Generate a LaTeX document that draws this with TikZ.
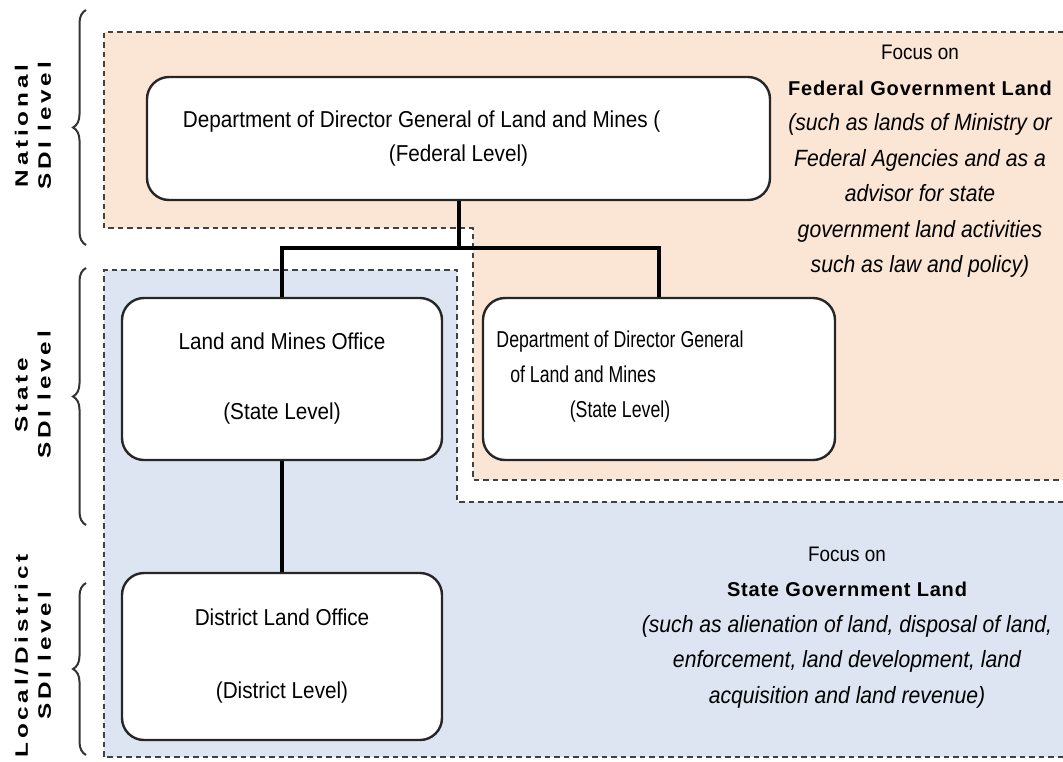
\documentclass[tikz,border=0pt]{standalone}
\usepackage{fontspec}
\setmainfont{Liberation Sans}
\newfontfamily\narrowfont[FakeStretch=0.9]{Liberation Sans}
\newfontfamily\narrowerfont[FakeStretch=0.77]{Liberation Sans}
\newfontfamily\bwfont[LetterSpace=4]{Liberation Sans}
\newfontfamily\lvlfont[FakeStretch=1.35,LetterSpace=21]{Liberation Sans}
\usetikzlibrary{decorations.pathreplacing}
\definecolor{peach}{RGB}{251,230,213}
\definecolor{lblue}{RGB}{220,229,241}
\definecolor{dashc}{RGB}{65,65,65}
\newcommand{\focit}{\narrowfont\itshape\fontsize{23.5}{35.5}\selectfont}
\begin{document}
\begin{tikzpicture}[x=1pt,y=-1pt,
  region/.style={draw=dashc, line width=2.4pt, dash pattern=on 5.5pt off 4pt},
  box/.style={draw=black!85, fill=white, line width=2.4pt, rounded corners=22pt, align=center, inner sep=0pt, font=\narrowfont\fontsize{23}{34}\selectfont},
  boxtext/.style={align=center, inner sep=0pt, font=\narrowerfont\fontsize{23}{35}\selectfont},
  conn/.style={line width=4pt, black},
  bracestyle/.style={decorate, decoration={brace, amplitude=13pt}, line width=2pt, draw=black!80},
  lvl/.style={rotate=90, align=center, inner sep=0pt, font=\lvlfont\bfseries\fontsize{18}{23}\selectfont},
  focus/.style={align=center, inner sep=0pt, font=\narrowfont\fontsize{21}{35.5}\selectfont}]

\useasboundingbox (0,0) rectangle (1063,761);
\fill[white] (0,0) rectangle (1063,761);

% regions
\fill[peach] (1063,32) -- (104,32) -- (104,228) -- (473,228) -- (473,480) -- (1063,480) -- cycle;
\draw[region] (1063,32) -- (104,32) -- (104,228) -- (473,228) -- (473,480) -- (1063,480);
\fill[lblue] (1063,502) -- (457,502) -- (457,270) -- (104,270) -- (104,757) -- (1063,757) -- cycle;
\draw[region] (1063,502) -- (457,502) -- (457,270) -- (104,270) -- (104,757) -- (1063,757);

% boxes
\node[box, minimum width=623pt, minimum height=123pt] (fed) at (458.5,138.5)
  {Department of Director General of Land and Mines (\phantom{JKPTG)}\\(Federal Level)};
\node[box, minimum width=320pt, minimum height=162pt] (lmo) at (282,379)
  {Land and Mines Office\\[36pt](State Level)};
\node[box, minimum width=352pt, minimum height=162pt] (dgs) at (659,379) {};
\node[boxtext] (dgst) at (620,377)
  {Department of Director General\\of Land and Mines\phantom{ (JKPTG)}\\(State Level)};
\node[box, minimum width=320pt, minimum height=167pt] (dlo) at (282,656.5)
  {District Land Office\\[39pt](District Level)};

% connectors
\coordinate (bus) at (458.5,248);
\draw[conn] (fed.south) -- (bus);
\draw[conn] (lmo.north) |- (bus) -| (dgs.north);
\draw[conn] (lmo.south) -- (dlo.north);

% focus texts
\node[focus] (fedfocus) at (920,161.5)
  {Focus on\\{\bwfont\bfseries\fontsize{20}{35.5}\selectfont Federal Government Land}\\
   {\focit (such as lands of Ministry or}\\
   {\focit Federal Agencies and as a}\\
   {\focit advisor for state}\\
   {\focit government land activities}\\
   {\focit such as law and policy)}};
\node[focus] (statefocus) at (847,627.5)
  {Focus on\\{\bwfont\bfseries\fontsize{20}{35.5}\selectfont State Government Land}\\
   {\focit (such as alienation of land, disposal of land,}\\
   {\focit enforcement, land development, land}\\
   {\focit acquisition and land revenue)}};

% level braces and labels
\draw[bracestyle] (86,245) -- (86,10);
\draw[bracestyle] (86,525) -- (86,268);
\draw[bracestyle] (86,755) -- (86,583);
\node[lvl] (natl) at (33,126) {National\\SDI level};
\node[lvl] (statel) at (33,395) {State\\SDI level};
\node[lvl] (locl) at (33,656) {Local/District\\SDI level};
\end{tikzpicture}
\end{document}
